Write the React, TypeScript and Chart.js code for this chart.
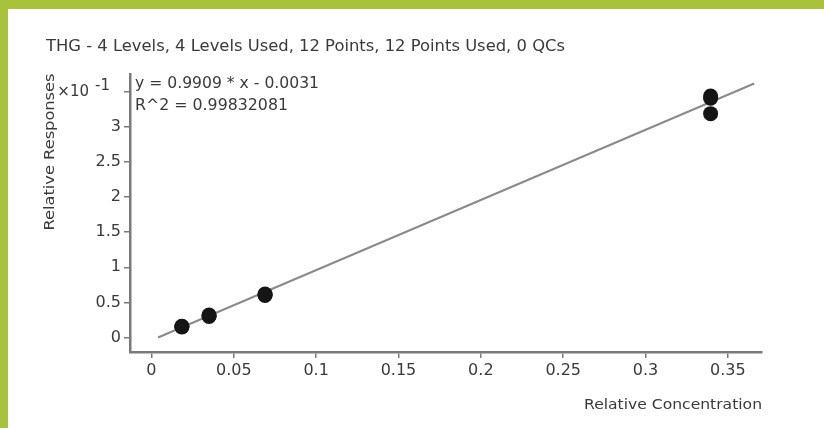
import React, { useEffect, useRef } from "react";
import { Chart, registerables } from "chart.js";

Chart.register(...registerables);

const titleText = "THG - 4 Levels, 4 Levels Used, 12 Points, 12 Points Used, 0 QCs";
const equationLines = ["y = 0.9909 * x - 0.0031", "R^2 = 0.99832081"];
const xAxisTitle = "Relative Concentration";
const yAxisTitle = "Relative Responses";

const concentrations = [0.0185, 0.0185, 0.0185, 0.035, 0.035, 0.035, 0.069, 0.069, 0.069, 0.3395, 0.3395, 0.3395];
const responses = [0.15, 0.16, 0.155, 0.3, 0.31, 0.32, 0.6, 0.61, 0.62, 3.44, 3.19, 3.41];

const fitLineX = [0.004, 0.366];
const fitLineY = [0.0, 3.62];

const xTicks = [0, 0.05, 0.1, 0.15, 0.2, 0.25, 0.3, 0.35];
const yTicks = [0, 0.5, 1, 1.5, 2, 2.5, 3, 3.5];
const xLabels = ["0", "0.05", "0.1", "0.15", "0.2", "0.25", "0.3", "0.35"];
const yLabels = ["0", "0.5", "1", "1.5", "2", "2.5", "3", ""];

const FONT = '"DejaVu Sans", sans-serif';
const TEXT_COLOR = "#3a3a3a";

function fitText(ctx: CanvasRenderingContext2D, text: string, x: number, y: number, w: number, size: number) {
  ctx.save();
  ctx.font = `${size}px ${FONT}`;
  const m = ctx.measureText(text).width;
  const sx = w / m;
  ctx.translate(x, y);
  ctx.scale(sx, 1);
  ctx.textAlign = "left";
  ctx.textBaseline = "middle";
  ctx.fillStyle = TEXT_COLOR;
  ctx.fillText(text, 0, 0);
  ctx.restore();
}

const textPlugin = {
  id: "textPlugin",
  afterDraw(chart: any) {
    const ctx: CanvasRenderingContext2D = chart.ctx;
    const ys = chart.scales.y;
    fitText(ctx, titleText, 46, 47, 519, 15);
    fitText(ctx, equationLines[0], 135, 84, 184, 15);
    fitText(ctx, equationLines[1], 135, 106, 153, 15);
    fitText(ctx, xAxisTitle, 584, 405, 178, 14);
    ctx.save();
    ctx.translate(50, 152);
    ctx.rotate(-Math.PI / 2);
    ctx.font = `14px ${FONT}`;
    const m = ctx.measureText(yAxisTitle).width;
    ctx.scale(157 / m, 1);
    ctx.textAlign = "center";
    ctx.textBaseline = "middle";
    ctx.fillStyle = TEXT_COLOR;
    ctx.fillText(yAxisTitle, 0, 0);
    ctx.restore();
    const ty = ys.getPixelForValue(yTicks[yTicks.length - 1]);
    ctx.save();
    ctx.fillStyle = TEXT_COLOR;
    ctx.textBaseline = "middle";
    ctx.font = `15px ${FONT}`;
    ctx.textAlign = "right";
    ctx.fillText("\u00d710", 89, ty);
    ctx.textAlign = "left";
    ctx.fillText("-1", 95, ty - 6);
    ctx.restore();
  },
};

export default function App() {
  const ref = useRef<HTMLCanvasElement | null>(null);

  useEffect(() => {
    if (!ref.current) return;
    const points = concentrations.map((c, i) => ({ x: c, y: responses[i] }));
    const fit = fitLineX.map((x, i) => ({ x, y: fitLineY[i] }));
    const tickFont = { family: FONT, size: 16 };
    const chart = new Chart(ref.current, {
      type: "scatter",
      data: {
        datasets: [
          {
            data: points,
            pointRadius: 7.5,
            pointBackgroundColor: "#151515",
            pointBorderWidth: 0,
            backgroundColor: "#151515",
            order: 0,
          } as any,
          {
            type: "line",
            data: fit,
            showLine: true,
            borderColor: "#8a8a8a",
            borderWidth: 2,
            pointRadius: 0,
            fill: false,
            order: 1,
          } as any,
        ],
      },
      options: {
        responsive: false,
        animation: false,
        devicePixelRatio: 1,
        layout: { padding: { left: 0, top: 74, right: 62, bottom: 0 } },
        plugins: { legend: { display: false }, tooltip: { enabled: false }, title: { display: false } },
        scales: {
          x: {
            type: "linear",
            min: -0.013,
            max: 0.3707,
            afterBuildTicks: (s: any) => {
              s.ticks = xTicks.map((v) => ({ value: v }));
            },
            afterFit: (s: any) => {
              s.height = 76;
            },
            grid: { drawOnChartArea: false, drawTicks: true, tickLength: 6, color: "#7a7a7a", lineWidth: 1.5 },
            border: { display: true, color: "#7a7a7a", width: 2.5 },
            ticks: {
              autoSkip: false,
              maxRotation: 0,
              padding: 3,
              font: tickFont,
              color: TEXT_COLOR,
              callback: (v: any, i: number) => xLabels[i],
            },
          },
          y: {
            type: "linear",
            min: -0.207,
            max: 3.755,
            afterBuildTicks: (s: any) => {
              s.ticks = yTicks.map((v) => ({ value: v }));
            },
            afterFit: (s: any) => {
              s.width = 130;
            },
            grid: { drawOnChartArea: false, drawTicks: true, tickLength: 6, color: "#7a7a7a", lineWidth: 1.5 },
            border: { display: true, color: "#7a7a7a", width: 2.5 },
            ticks: {
              autoSkip: false,
              padding: 3,
              font: tickFont,
              color: TEXT_COLOR,
              callback: (v: any, i: number) => yLabels[i],
            },
          },
        },
      } as any,
      plugins: [textPlugin],
    });
    return () => chart.destroy();
  }, []);

  return (
    <div style={{ position: "fixed", left: 0, top: 0, width: 824, height: 428, background: "#a9c23b" }}>
      <div style={{ position: "absolute", left: 8, top: 9, right: 0, bottom: 0, background: "#ffffff" }} />
      <canvas ref={ref} width={824} height={428} style={{ position: "absolute", left: 0, top: 0, width: 824, height: 428 }} />
    </div>
  );
}
